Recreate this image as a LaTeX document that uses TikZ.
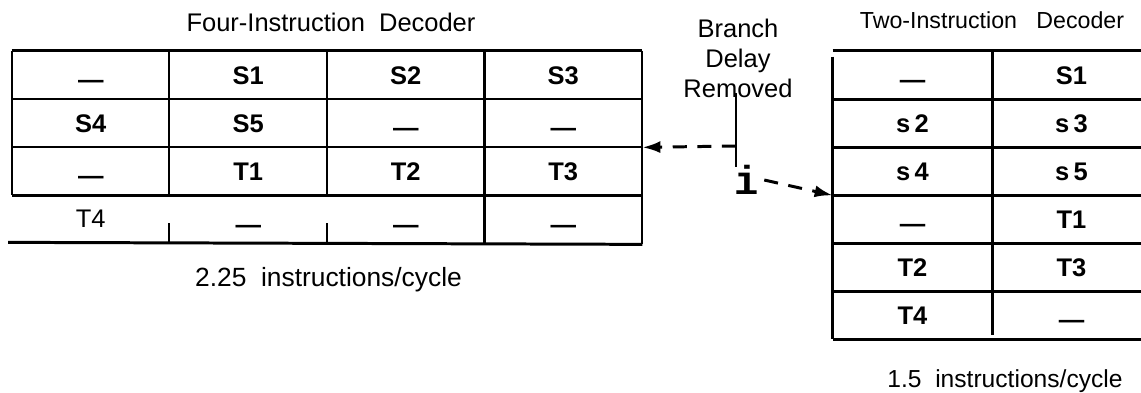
\documentclass[tikz,border=0pt]{standalone}
\usepackage{fontspec}
\setmainfont{Liberation Sans}
\newfontfamily\typefont{Liberation Mono}
\usetikzlibrary{arrows.meta}

% an empty slot in the decoder
\newcommand\idle{\raisebox{-0.35ex}{—}}

\begin{document}
\begin{tikzpicture}[
    cell/.style={minimum width=3.15cm, minimum height=0.96cm, inner sep=0pt, text height=10.4pt, text depth=0pt, font=\fontsize{14.5}{17}\selectfont\bfseries},
    tcell/.style={cell, minimum width=3.18cm},
    caption/.style={font=\fontsize{14.5}{17}\selectfont},
    heavy/.style={line width=1.7pt},
    light/.style={line width=1.2pt},
    jumparr/.style={-{Latex[length=3.6mm,width=2.4mm]}, line width=1.7pt, dash pattern=on 8pt off 6pt}
]
\useasboundingbox (0,0) rectangle (22.82,-7.84);

% Four-instruction decoder
\node[caption] (ftitle) at (6.62,-0.44) {Four-Instruction\ \ Decoder};
\node[cell] (L-1-1) at (1.815,-1.50) {\idle};
\node[cell] (L-1-2) at (4.965,-1.50) {S1};
\node[cell] (L-1-3) at (8.115,-1.50) {S2};
\node[cell] (L-1-4) at (11.265,-1.50) {S3};
\node[cell] (L-2-1) at (1.815,-2.46) {S4};
\node[cell] (L-2-2) at (4.965,-2.46) {S5};
\node[cell] (L-2-3) at (8.115,-2.46) {\idle};
\node[cell] (L-2-4) at (11.265,-2.46) {\idle};
\node[cell] (L-3-1) at (1.815,-3.42) {\idle};
\node[cell] (L-3-2) at (4.965,-3.42) {T1};
\node[cell] (L-3-3) at (8.115,-3.42) {T2};
\node[cell] (L-3-4) at (11.265,-3.42) {T3};
\node[cell, font=\fontsize{14.5}{17}\selectfont] (L-4-1) at (1.815,-4.36) {T4};
\node[cell] (L-4-2) at (4.965,-4.40) {\idle};
\node[cell] (L-4-3) at (8.115,-4.40) {\idle};
\node[cell] (L-4-4) at (11.265,-4.40) {\idle};
\node[caption, font=\fontsize{15}{17}\selectfont] (frate) at (6.57,-5.60) {2.25\ \ instructions/cycle};

% its rules (last row left open)
\draw[heavy] (L-1-1.north west) -- (L-1-4.north east);
\draw[light] (L-1-1.south west) -- (L-1-4.south east);
\draw[light] (L-2-1.south west) -- (L-2-4.south east);
\draw[heavy] (L-3-1.south west) -- (L-3-4.south east);
\draw[heavy] ([xshift=-2pt]L-4-1.south west) -- (L-4-4.south east);
\draw[light] (L-1-1.north west) -- (L-3-1.south west);
\draw[light] (L-1-2.north west) -- (L-3-2.south west);
\draw[light] (L-1-3.north west) -- (L-3-3.south west);
\draw[light] ([yshift=0.42cm]L-4-2.south west) -- (L-4-2.south west);
\draw[light] ([yshift=0.42cm]L-4-3.south west) -- (L-4-3.south west);
\draw[heavy] (L-1-4.north west) -- (L-4-4.south west);
\draw[light] (L-1-4.north east) -- (L-4-4.south east);

% Two-instruction decoder
\node[caption, font=\fontsize{13.2}{16}\selectfont] (ttitle) at (19.84,-0.40) {Two-Instruction\ \ \ Decoder};
\node[tcell] (R-1-1) at (18.25,-1.50) {\idle};
\node[tcell] (R-1-2) at (21.43,-1.50) {S1};
\node[tcell] (R-2-1) at (18.25,-2.46) {s\,2};
\node[tcell] (R-2-2) at (21.43,-2.46) {s\,3};
\node[tcell] (R-3-1) at (18.25,-3.42) {s\,4};
\node[tcell] (R-3-2) at (21.43,-3.42) {s\,5};
\node[tcell] (R-4-1) at (18.25,-4.38) {\idle};
\node[tcell] (R-4-2) at (21.43,-4.38) {T1};
\node[tcell] (R-5-1) at (18.25,-5.34) {T2};
\node[tcell] (R-5-2) at (21.43,-5.34) {T3};
\node[tcell] (R-6-1) at (18.25,-6.30) {T4};
\node[tcell] (R-6-2) at (21.43,-6.30) {\idle};
\node[caption, font=\fontsize{14}{17}\selectfont] (trate) at (20.10,-7.62) {1.5\ \ instructions/cycle};

% its rules, running off the page on the right
\coordinate (redge) at (22.82,0);
\draw[heavy] (R-1-1.north west) -- (R-1-1.north west -| redge);
\draw[heavy] (R-1-1.south west) -- (R-1-1.south west -| redge);
\draw[heavy] (R-2-1.south west) -- (R-2-1.south west -| redge);
\draw[heavy] (R-3-1.south west) -- (R-3-1.south west -| redge);
\draw[heavy] (R-4-1.south west) -- (R-4-1.south west -| redge);
\draw[heavy] (R-5-1.south west) -- (R-5-1.south west -| redge);
\draw[heavy] (R-6-1.south west) -- (R-6-1.south west -| redge);
\draw[heavy] ([yshift=-0.12cm]R-1-1.north west) -- (R-6-1.south west);
\draw[heavy] (R-1-1.north east) -- ([yshift=0.08cm]R-6-1.south east);

% Branch delay removed
\node[caption, font=\fontsize{14.5}{17.2}\selectfont, align=center] (branch) at (14.76,-1.17) {Branch\\Delay\\Removed};
\coordinate (brtop) at (14.72,-1.86);
\coordinate (brjoin) at (14.72,-2.92);
\coordinate (brbot) at (14.72,-3.34);
\draw[heavy] (brtop) -- (brbot);
\draw[jumparr] (brjoin) -- (L-2-4.south east);
\node[font=\typefont\bfseries\fontsize{23}{23}\selectfont, inner sep=0pt] (ibit) at (14.93,-3.60) {i};
\draw[jumparr] ([xshift=3pt]ibit.east) -- (R-3-1.south west);

\end{tikzpicture}
\end{document}
